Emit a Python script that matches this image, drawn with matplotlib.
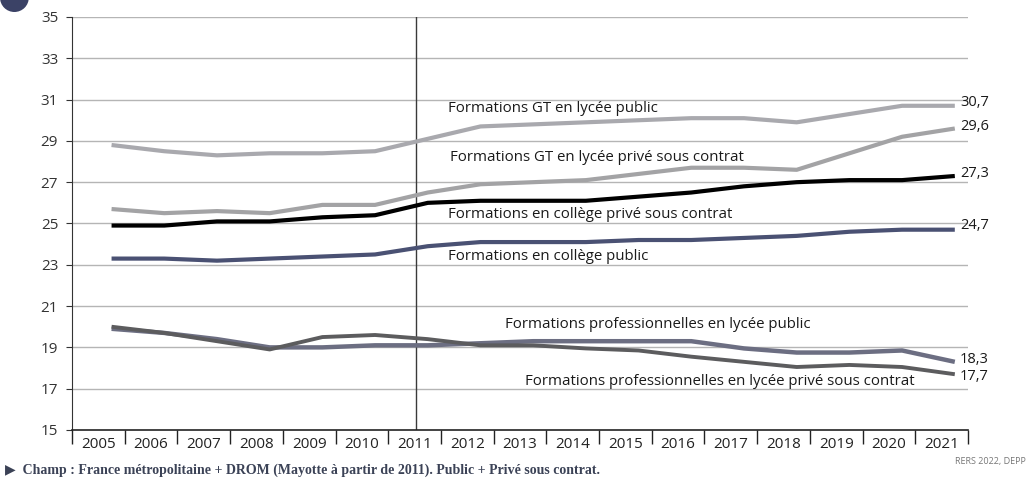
import matplotlib
matplotlib.use("Agg")
import matplotlib.pyplot as plt
import matplotlib.patches as mpatches
import numpy as np

years = [str(y) for y in range(2005, 2022)]
yticks = [15, 17, 19, 21, 23, 25, 27, 29, 31, 33, 35]

gt_public = [28.8, 28.5, 28.3, 28.4, 28.4, 28.5, 29.1, 29.7, 29.8, 29.9, 30.0, 30.1, 30.1, 29.9, 30.3, 30.7, 30.7]
gt_prive = [25.7, 25.5, 25.6, 25.5, 25.9, 25.9, 26.5, 26.9, 27.0, 27.1, 27.4, 27.7, 27.7, 27.6, 28.4, 29.2, 29.6]
college_prive = [24.9, 24.9, 25.1, 25.1, 25.3, 25.4, 26.0, 26.1, 26.1, 26.1, 26.3, 26.5, 26.8, 27.0, 27.1, 27.1, 27.3]
college_public = [23.3, 23.3, 23.2, 23.3, 23.4, 23.5, 23.9, 24.1, 24.1, 24.1, 24.2, 24.2, 24.3, 24.4, 24.6, 24.7, 24.7]
pro_public = [19.9, 19.7, 19.4, 19.0, 19.0, 19.1, 19.1, 19.2, 19.3, 19.3, 19.3, 19.3, 18.95, 18.75, 18.75, 18.85, 18.3]
pro_prive = [20.0, 19.7, 19.3, 18.9, 19.5, 19.6, 19.4, 19.1, 19.1, 18.95, 18.85, 18.55, 18.3, 18.05, 18.15, 18.05, 17.7]

series_labels = [
    "Formations GT en lycée public",
    "Formations GT en lycée privé sous contrat",
    "Formations en collège privé sous contrat",
    "Formations en collège public",
    "Formations professionnelles en lycée public",
    "Formations professionnelles en lycée privé sous contrat",
]
end_labels = ["30,7", "29,6", "27,3", "24,7", "18,3", "17,7"]

series = [gt_public, gt_prive, college_prive, college_public, pro_public, pro_prive]
colors = ["#a9a9ae", "#a3a3a5", "#000000", "#4a5173", "#6c6e82", "#5c5c5e"]
widths = [3.0, 3.0, 3.0, 3.0, 3.2, 2.8]
# label positions (x in category units, y in data units)
label_pos = [(6.63, 30.55), (6.68, 28.2), (6.63, 25.45), (6.63, 23.4), (7.72, 20.1), (8.1, 17.35)]
end_offsets = [(0, 0.15), (0, 0.1), (0, 0.1), (0, 0.2), (0, 0.1), (0, -0.1)]

plt.rcParams['font.family'] = ['Open Sans', 'DejaVu Sans']

fig = plt.figure(figsize=(10.29, 4.8), dpi=100)
ax = fig.add_axes([0.07, 0.1042, 0.8707, 0.8604])

# partially visible title bullet at top-left
fig.patches.append(mpatches.Ellipse((0.014, 1.005), 0.028, 0.06, transform=fig.transFigure,
                                    facecolor="#3b4266", edgecolor="none"))

x = np.arange(len(years))
xoff = 0.25

for yv in yticks[1:]:
    ax.axhline(yv, color="#b5b5b5", lw=1.0, zorder=1)

ax.axvline(6.03, color="#3a3a3a", lw=1.0, zorder=2)

for s, c, w in zip(series, colors, widths):
    ax.plot(x + xoff, s, color=c, lw=w, zorder=3, solid_capstyle="butt")

for (lx, ly), t in zip(label_pos, series_labels):
    ax.text(lx, ly, t, fontsize=10.8, color="#1a1a1a", va="center", ha="left", zorder=4)

for s, t, (dx, dy) in zip(series, end_labels, end_offsets):
    ax.text(x[-1] + xoff + 0.1 + dx, s[-1] + dy, t, fontsize=10.5, color="#1a1a1a",
            va="center", ha="left", clip_on=False)

ax.set_xlim(-0.5, len(years) - 0.5)
ax.set_ylim(15, 35)
ax.set_yticks(yticks)
ax.set_yticklabels([str(v) for v in yticks], fontsize=11, color="#333333")
ax.tick_params(axis="y", length=4, width=0.8, color="#333333", pad=6)

ax.set_xticks(np.arange(len(years) + 1) - 0.5)
ax.set_xticklabels([])
ax.set_xticks(x, minor=True)
ax.set_xticklabels(years, minor=True, fontsize=11, color="#222222")
ax.tick_params(axis="x", which="major", length=10, width=1.0, color="#222222")
ax.tick_params(axis="x", which="minor", length=0, pad=5)

for sp in ["top", "right"]:
    ax.spines[sp].set_visible(False)
ax.spines["left"].set_color("#333333")
ax.spines["bottom"].set_color("#222222")
ax.spines["bottom"].set_linewidth(1.2)

fig.text(0.005, 0.02, "\u25b6  Champ : France métropolitaine + DROM (Mayotte à partir de 2011). Public + Privé sous contrat.",
         fontsize=10, family=["Liberation Serif", "DejaVu Serif"], fontweight="bold", color="#3b4256",
         ha="left", va="center")
fig.text(0.997, 0.038, "RERS 2022, DEPP", fontsize=6.5, color="#777777", ha="right", va="center")

fig.savefig("out.png", dpi=100)
